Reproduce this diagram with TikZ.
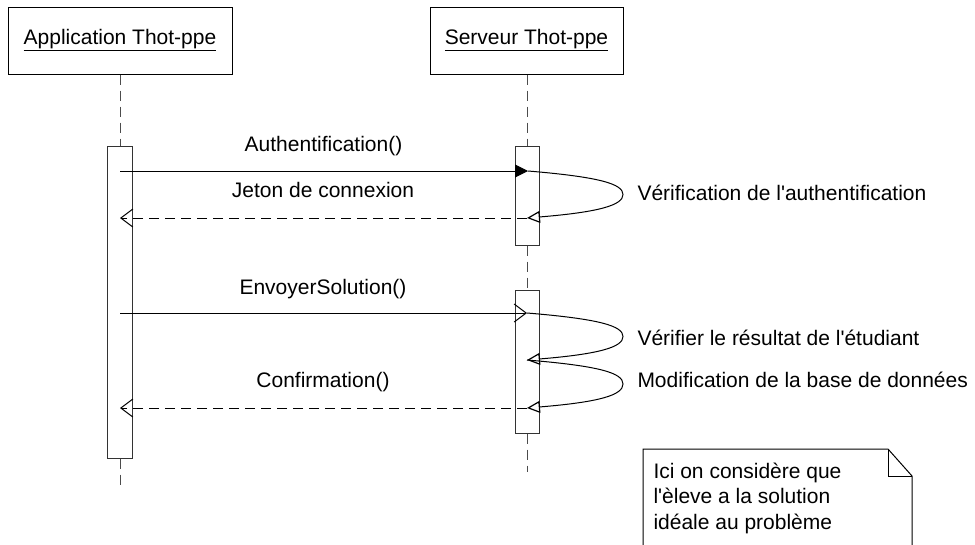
\documentclass[tikz,border=0pt]{standalone}
\usepackage{fontspec}
\setmainfont{Liberation Sans}
\usetikzlibrary{arrows.meta}
\newcommand{\ap}{\textquotesingle}
\begin{document}
\begin{tikzpicture}[x=1pt,y=-1pt,line width=1pt,
  every node/.style={font=\fontsize{21}{25.5}\selectfont,inner sep=0pt},
  headbox/.style={draw,minimum height=67pt},
  actbox/.style={draw=black!80,fill=white,minimum width=24pt},
  lifeline/.style={draw=black!70,dash pattern=on 10pt off 6pt},
  call/.style={-{Triangle[length=13pt,width=13pt]}},
  callopen/.style={-{Straight Barb[length=12pt,width=18pt]}},
  reply/.style={dash pattern=on 10pt off 6pt,-{Straight Barb[length=12pt,width=18pt]}},
  selfcall/.style={-{Triangle[open,fill=white,length=13pt,width=12pt,line width=1.2pt]}},
  msglabel/.style={anchor=base},
  sidelabel/.style={anchor=base west}]
\useasboundingbox (0,0) rectangle (975,544);
% heads
\node[headbox,minimum width=224pt] (app) at (120,40.5) {\underline{Application Thot-ppe}};
\node[headbox,minimum width=193pt] (srv) at (526.5,40.5) {\underline{Serveur Thot-ppe}};
% activations
\node[actbox,minimum width=25pt,minimum height=312pt] (actA) at (119.5,302) {};
\node[actbox,minimum height=99pt] (actS1) at (527,195.5) {};
\node[actbox,minimum height=143pt] (actS2) at (527,361.5) {};
\coordinate (append) at (120,490);
\coordinate (srvend) at (527,472);
% lifelines
\draw[lifeline] (app.south) -- (app.south |- actA.north);
\draw[lifeline] (app.south |- actA.south) -- (append);
\draw[lifeline] (srv.south -| actS1.north) -- (actS1.north);
\draw[lifeline] (actS1.south) -- (actS2.north);
\draw[lifeline] (actS2.south) -- (srvend);
% message points
\coordinate (a1) at (120,171);
\coordinate (s1) at (528,171);
\coordinate (s2) at (527,218);
\coordinate (a2) at (120,218);
\coordinate (a3) at (120,313);
\coordinate (s3) at (527,313);
\coordinate (s4) at (527,360);
\coordinate (s5) at (527,408);
\coordinate (a5) at (120,408);
% messages
\draw[call] (a1) -- (s1);
\draw[selfcall] (s1) .. controls (600,177) and (623,184) .. (623,194.5) .. controls (623,205) and (600,212) .. (s2);
\draw[reply] (s2) -- (a2);
\draw[callopen] (a3) -- (s3);
\draw[selfcall] (s3) .. controls (600,319) and (623,326) .. (623,336.5) .. controls (623,347) and (600,354) .. (s4);
\draw[selfcall] (s4) .. controls (600,366) and (623,373) .. (623,384) .. controls (623,395) and (600,402) .. (s5);
\draw[reply] (s5) -- (a5);
% labels
\node[msglabel] (l1) at (323.5,151) {Authentification()};
\node[msglabel] (l2) at (323,197) {Jeton de connexion};
\node[msglabel] (l3) at (323,294) {EnvoyerSolution()};
\node[msglabel] (l4) at (323,387) {Confirmation()};
\node[sidelabel] (v1) at (637,200) {Vérification de l\ap authentification};
\node[sidelabel] (v2) at (637,345) {Vérifier le résultat de l\ap étudiant};
\node[sidelabel] (v3) at (637,387) {Modification de la base de données};
% note
\draw (643,546) -- (643,449) -- (888,449) -- (912,476) -- (912,546);
\draw (888,449) -- (888,476) -- (912,476);
\node[sidelabel] (n1) at (653,478) {Ici on considère que};
\node[sidelabel] (n2) at (653,503.5) {l\ap èleve a la solution};
\node[sidelabel] (n3) at (653,529) {idéale au problème};
\end{tikzpicture}
\end{document}
